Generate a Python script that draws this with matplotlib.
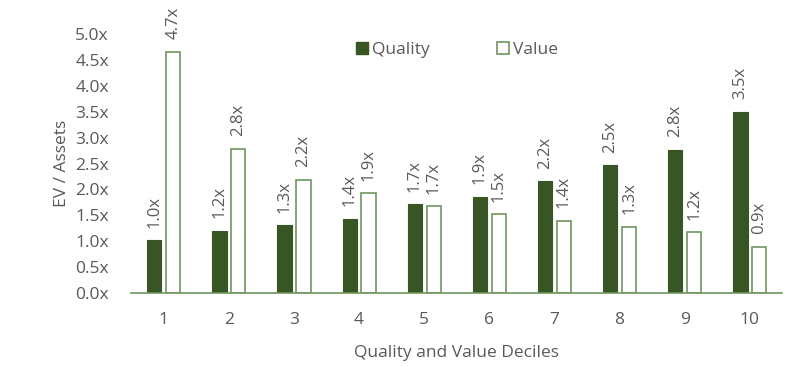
import matplotlib
matplotlib.use("Agg")
import matplotlib.pyplot as plt
import numpy as np
from matplotlib.patches import Patch

deciles = ["1", "2", "3", "4", "5", "6", "7", "8", "9", "10"]
quality = [1.02, 1.20, 1.31, 1.43, 1.71, 1.86, 2.16, 2.47, 2.77, 3.50]
value = [4.66, 2.79, 2.19, 1.93, 1.68, 1.52, 1.40, 1.28, 1.17, 0.89]
yticks = [0.0, 0.5, 1.0, 1.5, 2.0, 2.5, 3.0, 3.5, 4.0, 4.5, 5.0]

plt.rcParams['font.family'] = ['Open Sans', 'DejaVu Sans']
TXT = '#595959'
DARK = '#375623'
EDGE = '#6f9560'

fig = plt.figure(figsize=(8, 3.67), dpi=100)
ax = fig.add_axes([0.164, 0.2016, 0.814, 0.7054])

x = np.arange(1, len(deciles) + 1)
w = 0.22
off = 0.145
ax.bar(x - off, quality, width=w, color=DARK, edgecolor=DARK, linewidth=0.8, label='Quality')
ax.bar(x + off, value, width=w, color='white', edgecolor=EDGE, linewidth=1.2, label='Value')

for xi, q, v in zip(x, quality, value):
    ax.annotate(f"{q:.1f}x", (xi - off, q), xytext=(0, 9), textcoords='offset points',
                rotation=90, ha='center', va='bottom', fontsize=12, color=TXT,
                annotation_clip=False)
    ax.annotate(f"{v:.1f}x", (xi + off, v), xytext=(0, 9), textcoords='offset points',
                rotation=90, ha='center', va='bottom', fontsize=12, color=TXT,
                annotation_clip=False)

ax.set_xlim(0.5, 10.5)
ax.set_ylim(0, 5.0)
ax.set_yticks(yticks)
ax.set_yticklabels([f"{t:.1f}x" for t in yticks])
ax.set_xticks(x)
ax.set_xticklabels(deciles)
ax.tick_params(axis='both', length=0, labelsize=12.5, colors=TXT)
ax.tick_params(axis='x', pad=14)
ax.tick_params(axis='y', pad=16)
for s in ['top', 'right', 'left']:
    ax.spines[s].set_visible(False)
ax.spines['bottom'].set_color(EDGE)
ax.spines['bottom'].set_linewidth(1.2)

ax.set_ylabel("EV / Assets", fontsize=12.5, color=TXT, labelpad=4)
ax.set_xlabel("Quality and Value Deciles", fontsize=12.5, color=TXT, labelpad=12)

handles = [Patch(facecolor=DARK, edgecolor=DARK, label='Quality'),
           Patch(facecolor='white', edgecolor=EDGE, linewidth=1.2, label='Value')]
leg = ax.legend(handles=handles, loc='upper center', bbox_to_anchor=(0.5, 1.03), ncol=2,
                frameon=False, handlelength=0.7, handleheight=0.7, handletextpad=0.2,
                columnspacing=3.9, fontsize=12.5)
for t in leg.get_texts():
    t.set_color(TXT)

fig.savefig("out.png", dpi=100, facecolor='white')
